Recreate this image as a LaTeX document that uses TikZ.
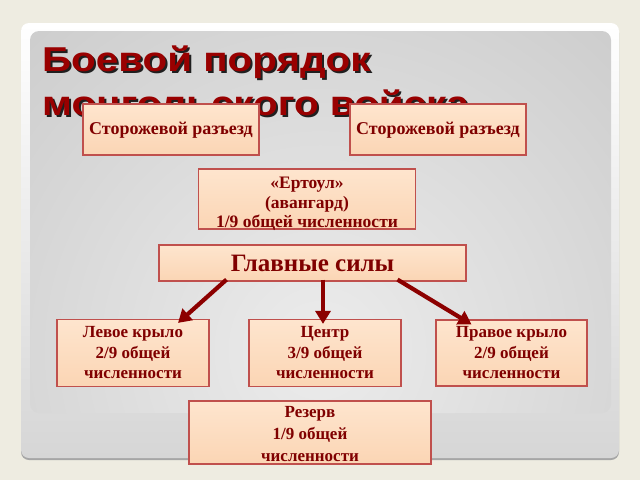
\documentclass[tikz,border=0pt]{standalone}
\usepackage{fontspec}
\setmainfont{Liberation Serif}
\newfontfamily\titlefont[FakeStretch=1.17]{Liberation Sans}
\usetikzlibrary{arrows.meta}
\definecolor{bgc}{RGB}{238,236,225}
\definecolor{boxfillT}{RGB}{254,229,206}
\definecolor{boxfillB}{RGB}{251,213,180}
\definecolor{boxline}{RGB}{192,80,77}
\definecolor{txtred}{RGB}{128,0,0}
\definecolor{titred}{RGB}{153,0,0}
\definecolor{arrred}{RGB}{140,0,0}
\definecolor{panelin}{RGB}{236,236,236}
\definecolor{panelout}{RGB}{178,178,178}
\definecolor{cardbot}{RGB}{214,214,214}
\begin{document}
\begin{tikzpicture}[x=1pt,y=-1pt,
  box/.style={draw=boxline, line width=1.2pt, top color=boxfillT, bottom color=boxfillB, inner sep=0pt},
  btext/.style={text=txtred, font=\bfseries\fontsize{17}{20.5}\selectfont, align=center, inner sep=0pt},
  arr/.style={draw=arrred, line width=4.2pt, -{Triangle[length=13pt,width=15pt]}},
  ttl/.style={font=\titlefont\bfseries\fontsize{34.5}{40}\selectfont, anchor=base west, inner sep=0pt}]
\useasboundingbox (0,0) rectangle (640,480);
\fill[bgc] (0,0) rectangle (640,480);
% card
\fill[black!35, rounded corners=8pt] (21,25) rectangle (619,460);
\shade[top color=white, bottom color=cardbot, rounded corners=8pt] (21,23) rectangle (619,458);
% inner panel
\begin{scope}
  \clip[rounded corners=9pt] (30,31) rectangle (611,413);
  \shade[inner color=panelin, outer color=panelout] (320,350) circle (820);
\end{scope}
% title
\node[ttl, text=black, opacity=0.85] at (44,73) {Боевой порядок};
\node[ttl, text=titred] (t1) at (42,71) {Боевой порядок};
\node[ttl, text=black, opacity=0.85] at (44,117) {монгольского войска};
\node[ttl, text=titred] (t2) at (42,115) {монгольского войска};
% boxes
\node[box, minimum width=176pt, minimum height=51pt] (sr1) at (171,129.5) {};
\node[btext, font=\bfseries\fontsize{18}{20}\selectfont] (sr1t) at (171,130) {Сторожевой разъезд};
\node[box, minimum width=176pt, minimum height=51pt] (sr2) at (438,129.5) {};
\node[btext, font=\bfseries\fontsize{18}{20}\selectfont] (sr2t) at (438,130) {Сторожевой разъезд};
\node[box, minimum width=217pt, minimum height=60pt] (ert) at (307,199) {};
\node[btext, font=\bfseries\fontsize{17.5}{19.7}\selectfont] (ertt) at (307,204) {«Ертоул»\\(авангард)\\1/9 общей численности};
\node[box, minimum width=307pt, minimum height=36pt] (main) at (312.5,263) {};
\node[btext, font=\bfseries\fontsize{25}{28}\selectfont] (maint) at (312.5,263.5) {Главные силы};
\node[box, minimum width=152pt, minimum height=67pt] (left) at (133,353) {};
\node[btext] (leftt) at (133,353) {Левое крыло\\2/9 общей\\численности};
\node[box, minimum width=152pt, minimum height=67pt] (cent) at (325,353) {};
\node[btext] (centt) at (325,353) {Центр\\3/9 общей\\численности};
\node[box, minimum width=151pt, minimum height=66pt] (right) at (511.5,353) {};
\node[btext] (rightt) at (511.5,353) {Правое крыло\\2/9 общей\\численности};
\node[box, minimum width=242pt, minimum height=63pt] (rez) at (310,432.5) {};
\node[btext, font=\bfseries\fontsize{17}{22}\selectfont] (rezt) at (310,434.5) {Резерв\\1/9 общей\\численности};
% arrows
\draw[arr] ([xshift=-86pt,yshift=2pt]main.south) -- ([xshift=45pt,yshift=-4pt]left.north);
\draw[arr] ([xshift=10.5pt,yshift=2pt]main.south) -- ([xshift=-2pt,yshift=-5pt]cent.north);
\draw[arr] ([xshift=85pt,yshift=2pt]main.south) -- ([xshift=-40pt,yshift=-5pt]right.north);
\end{tikzpicture}
\end{document}
